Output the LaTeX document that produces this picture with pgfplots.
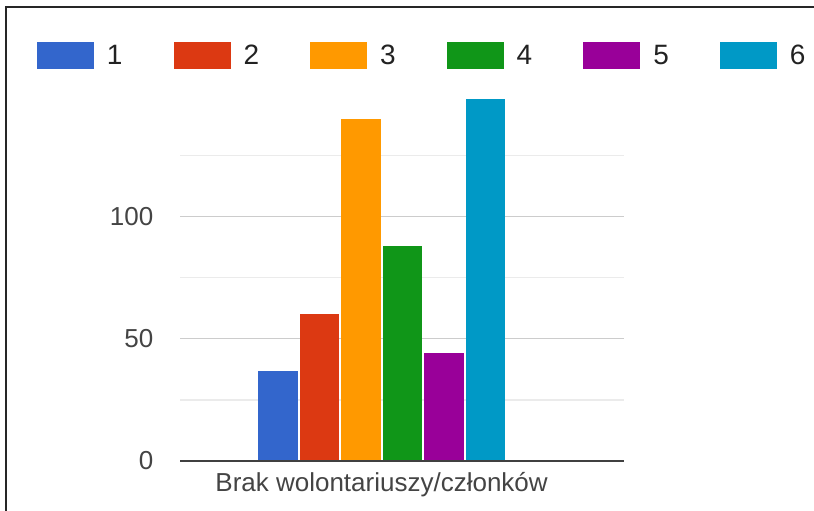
\documentclass[border=0pt]{standalone}
\usepackage{fontspec}
\setmainfont{Liberation Sans}
\usepackage{pgfplots}
\pgfplotsset{compat=1.18}
\definecolor{c1}{HTML}{3366CC}
\definecolor{c2}{HTML}{DC3912}
\definecolor{c3}{HTML}{FF9900}
\definecolor{c4}{HTML}{109618}
\definecolor{c5}{HTML}{990099}
\definecolor{c6}{HTML}{0099C6}
\definecolor{majgrid}{HTML}{CCCCCC}
\definecolor{mingrid}{HTML}{EBEBEB}
\definecolor{ticktext}{HTML}{444444}
\definecolor{legtext}{HTML}{222222}
\pgfplotsset{
  mybar/.style={ybar, bar shift=0pt, bar width=39.5, draw=none, fill=#1,
    legend image code/.code={\fill[#1] (0pt,-13.5pt) rectangle (57pt,13.5pt);}},
}
\begin{document}
\begin{tikzpicture}[x=1pt,y=1pt]
\path[use as bounding box] (0,0) rectangle (814,511);
\draw[line width=2pt, black!85] (6,0) -- (6,504) -- (814,504);
\begin{axis}[
  at={(180pt,50pt)}, anchor=south west,
  scale only axis, width=444pt, height=366.75pt,
  xmin=180, xmax=624, ymin=0, ymax=150,
  axis line style={draw=none},
  tick style={draw=none}, major tick length=0pt, minor tick length=0pt,
  xtick={381.6}, xticklabels={Brak wolontariuszy/członków},
  ytick={0,50,100}, minor ytick={25,75,125},
  ymajorgrids, yminorgrids,
  major grid style={color=majgrid, line width=1.4pt},
  minor grid style={color=mingrid, line width=1.4pt},
  tick label style={font=\fontsize{26}{30}\selectfont, text=ticktext},
  yticklabel style={anchor=east, inner sep=0pt, xshift=-26.5pt},
  xticklabel style={anchor=north, inner sep=0pt, yshift=-11pt},
  /pgf/number format/assume math mode=true,
  legend columns=6,
  legend style={at={(-0.3221,1.1057)}, anchor=west, draw=none, fill=none,
    inner sep=0pt, outer sep=0pt,
    font=\fontsize{28}{32}\selectfont, text=legtext,
    nodes={inner sep=0pt},
    /tikz/every odd column/.append style={column sep=13pt},
    /tikz/every even column/.append style={column sep=51pt}},
  clip=false,
]
\addplot[mybar=c1] coordinates {(277.9,37)}; \addlegendentry{1}
\addplot[mybar=c2] coordinates {(319.4,60)}; \addlegendentry{2}
\addplot[mybar=c3] coordinates {(360.9,140)}; \addlegendentry{3}
\addplot[mybar=c4] coordinates {(402.4,88)}; \addlegendentry{4}
\addplot[mybar=c5] coordinates {(443.9,44)}; \addlegendentry{5}
\addplot[mybar=c6] coordinates {(485.4,148)}; \addlegendentry{6}
\draw[line width=2pt, color=black!75] (axis cs:180,0) -- (axis cs:624,0);
\end{axis}
\end{tikzpicture}
\end{document}
